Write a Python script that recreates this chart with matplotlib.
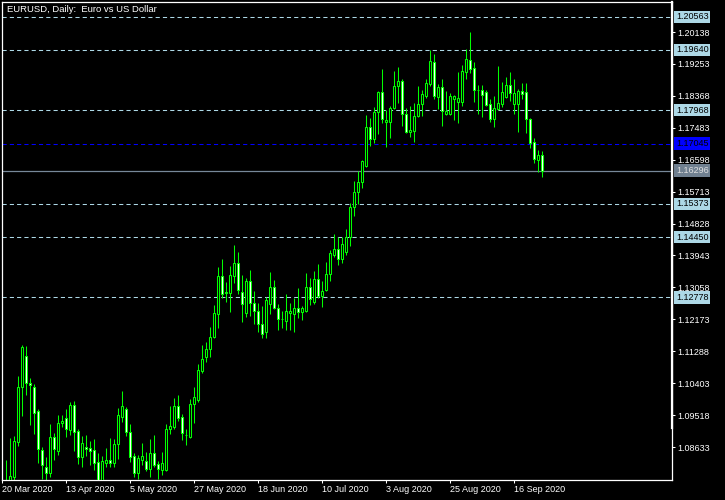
import matplotlib
matplotlib.use('Agg')
import matplotlib.pyplot as plt
from matplotlib.lines import Line2D
from matplotlib.transforms import blended_transform_factory

plt.rcParams['font.family'] = ['Liberation Sans', 'DejaVu Sans']

# EURUSD daily bars, 20 Mar 2020 .. 25 Sep 2020
opens = [
    1.0690, 1.0695, 1.0720, 1.0781, 1.0878, 1.1029, 1.1116, 1.1040, 1.1029, 1.0962,
    1.0854, 1.0808, 1.0790, 1.0890, 1.0853, 1.0929, 1.0943, 1.0910, 1.0980, 1.0907,
    1.0836, 1.0864, 1.0861, 1.0855, 1.0822, 1.0760, 1.0819, 1.0827, 1.0818, 1.0871,
    1.0947, 1.0968, 1.0904, 1.0837, 1.0790, 1.0827, 1.0824, 1.0802, 1.0847, 1.0815,
    1.0800, 1.0800, 1.0912, 1.0920, 1.0977, 1.0946, 1.0897, 1.0890, 1.0983, 1.0994,
    1.1075, 1.1114, 1.1134, 1.1167, 1.1231, 1.1337, 1.1292, 1.1291, 1.1338, 1.1373,
    1.1292, 1.1234, 1.1323, 1.1262, 1.1241, 1.1203, 1.1181, 1.1259, 1.1306, 1.1250,
    1.1218, 1.1213, 1.1234, 1.1233, 1.1250, 1.1238, 1.1240, 1.1308, 1.1266, 1.1328,
    1.1283, 1.1299, 1.1342, 1.1396, 1.1411, 1.1384, 1.1403, 1.1446, 1.1528, 1.1569,
    1.1597, 1.1643, 1.1751, 1.1716, 1.1791, 1.1847, 1.1763, 1.1763, 1.1802, 1.1863,
    1.1877, 1.1786, 1.1737, 1.1740, 1.1782, 1.1813, 1.1837, 1.1869, 1.1930, 1.1835,
    1.1860, 1.1787, 1.1787, 1.1829, 1.1821, 1.1821, 1.1904, 1.1935, 1.1913, 1.1852,
    1.1852, 1.1847, 1.1813, 1.1773, 1.1800, 1.1815, 1.1834, 1.1866, 1.1815, 1.1815,
    1.1850, 1.1847, 1.1772, 1.1708, 1.1658, 1.1673,
]
highs = [
    1.0832, 1.0827, 1.0887, 1.0894, 1.1060, 1.1146, 1.1143, 1.1055, 1.1038, 1.0968,
    1.0863, 1.0836, 1.0927, 1.0903, 1.0953, 1.0952, 1.0968, 1.0988, 1.0992, 1.0912,
    1.0894, 1.0897, 1.0880, 1.0885, 1.0846, 1.0838, 1.0860, 1.0889, 1.0885, 1.0971,
    1.1018, 1.0975, 1.0926, 1.0847, 1.0842, 1.0874, 1.0849, 1.0885, 1.0897, 1.0824,
    1.0849, 1.0926, 1.0977, 1.0999, 1.1007, 1.0955, 1.0912, 1.0996, 1.1030, 1.1093,
    1.1146, 1.1154, 1.1195, 1.1256, 1.1362, 1.1385, 1.1322, 1.1365, 1.1423, 1.1404,
    1.1340, 1.1333, 1.1354, 1.1296, 1.1263, 1.1254, 1.1280, 1.1348, 1.1326, 1.1260,
    1.1241, 1.1287, 1.1263, 1.1275, 1.1303, 1.1254, 1.1346, 1.1332, 1.1350, 1.1371,
    1.1324, 1.1376, 1.1409, 1.1454, 1.1445, 1.1445, 1.1467, 1.1539, 1.1600, 1.1628,
    1.1659, 1.1783, 1.1775, 1.1805, 1.1850, 1.1910, 1.1797, 1.1809, 1.1905, 1.1917,
    1.1883, 1.1802, 1.1809, 1.1816, 1.1864, 1.1853, 1.1883, 1.1964, 1.1952, 1.1869,
    1.1883, 1.1850, 1.1844, 1.1839, 1.1903, 1.1921, 1.1966, 1.2014, 1.1930, 1.1867,
    1.1867, 1.1853, 1.1828, 1.1836, 1.1920, 1.1875, 1.1889, 1.1903, 1.1883, 1.1855,
    1.1872, 1.1872, 1.1775, 1.1719, 1.1687, 1.1685,
]
lows = [
    1.0636, 1.0637, 1.0690, 1.0750, 1.0866, 1.0950, 1.1007, 1.0924, 1.0899, 1.0820,
    1.0775, 1.0772, 1.0781, 1.0827, 1.0840, 1.0918, 1.0892, 1.0897, 1.0853, 1.0816,
    1.0809, 1.0838, 1.0813, 1.0800, 1.0755, 1.0740, 1.0807, 1.0809, 1.0809, 1.0831,
    1.0933, 1.0895, 1.0823, 1.0781, 1.0774, 1.0813, 1.0798, 1.0781, 1.0809, 1.0774,
    1.0786, 1.0798, 1.0899, 1.0914, 1.0935, 1.0883, 1.0869, 1.0888, 1.0931, 1.0989,
    1.1068, 1.1100, 1.1114, 1.1165, 1.1194, 1.1277, 1.1266, 1.1238, 1.1319, 1.1287,
    1.1211, 1.1224, 1.1227, 1.1204, 1.1183, 1.1166, 1.1166, 1.1233, 1.1246, 1.1189,
    1.1194, 1.1188, 1.1189, 1.1183, 1.1221, 1.1215, 1.1238, 1.1258, 1.1259, 1.1276,
    1.1252, 1.1297, 1.1323, 1.1391, 1.1369, 1.1374, 1.1395, 1.1421, 1.1504, 1.1536,
    1.1580, 1.1640, 1.1699, 1.1705, 1.1730, 1.1761, 1.1696, 1.1721, 1.1799, 1.1818,
    1.1753, 1.1735, 1.1722, 1.1710, 1.1779, 1.1782, 1.1830, 1.1865, 1.1829, 1.1801,
    1.1753, 1.1784, 1.1784, 1.1770, 1.1762, 1.1809, 1.1884, 1.1901, 1.1820, 1.1787,
    1.1778, 1.1809, 1.1765, 1.1750, 1.1798, 1.1805, 1.1831, 1.1823, 1.1787, 1.1737,
    1.1827, 1.1733, 1.1691, 1.1651, 1.1627, 1.1613,
]
closes = [
    1.0695, 1.0722, 1.0783, 1.0880, 1.1029, 1.1141, 1.1042, 1.1034, 1.0958, 1.0857,
    1.0813, 1.0790, 1.0890, 1.0857, 1.0929, 1.0935, 1.0912, 1.0980, 1.0906, 1.0836,
    1.0874, 1.0858, 1.0853, 1.0820, 1.0772, 1.0824, 1.0827, 1.0818, 1.0871, 1.0951,
    1.0978, 1.0906, 1.0836, 1.0792, 1.0832, 1.0837, 1.0803, 1.0847, 1.0813, 1.0803,
    1.0818, 1.0912, 1.0922, 1.0977, 1.0945, 1.0901, 1.0896, 1.0983, 1.1001, 1.1077,
    1.1106, 1.1135, 1.1167, 1.1234, 1.1337, 1.1287, 1.1291, 1.1340, 1.1373, 1.1299,
    1.1259, 1.1323, 1.1262, 1.1241, 1.1203, 1.1176, 1.1271, 1.1306, 1.1249, 1.1217,
    1.1219, 1.1240, 1.1240, 1.1250, 1.1238, 1.1248, 1.1308, 1.1273, 1.1328, 1.1283,
    1.1296, 1.1342, 1.1400, 1.1411, 1.1384, 1.1425, 1.1445, 1.1528, 1.1569, 1.1597,
    1.1656, 1.1751, 1.1716, 1.1791, 1.1847, 1.1772, 1.1770, 1.1802, 1.1863, 1.1877,
    1.1786, 1.1737, 1.1741, 1.1782, 1.1813, 1.1842, 1.1872, 1.1933, 1.1837, 1.1861,
    1.1796, 1.1794, 1.1836, 1.1836, 1.1830, 1.1905, 1.1938, 1.1911, 1.1854, 1.1853,
    1.1840, 1.1811, 1.1773, 1.1802, 1.1816, 1.1847, 1.1866, 1.1846, 1.1846, 1.1850,
    1.1841, 1.1772, 1.1707, 1.1661, 1.1673, 1.16296,
]

date_labels = ['20 Mar 2020', '13 Apr 2020', '5 May 2020', '27 May 2020', '18 Jun 2020',
               '10 Jul 2020', '3 Aug 2020', '25 Aug 2020', '16 Sep 2020']
date_bars = [0, 16, 32, 48, 64, 80, 96, 112, 128]

price_ticks = [1.20138, 1.19253, 1.18368, 1.17483, 1.16598, 1.15713, 1.14828,
               1.13943, 1.13058, 1.12173, 1.11288, 1.10403, 1.09518, 1.08633]

level_lines = [1.20563, 1.19640, 1.17968, 1.15373, 1.14450, 1.12778]
ask_line = 1.17045
bid_line = 1.16296

title = 'EURUSD, Daily:  Euro vs US Dollar'

GREEN = '#00ff00'
FS = 6.5

fig = plt.figure(figsize=(7.25, 5.0), dpi=100, facecolor='black')
ax = fig.add_axes([2 / 725, 20.5 / 500, 670 / 725, 477.5 / 500], facecolor='black')

n = len(closes)
xs = list(range(n))

# level lines
for lv in level_lines:
    ax.axhline(lv, color='#add8e6', lw=0.75, ls=(0, (4, 3)), zorder=1)
ax.axhline(ask_line, color='#0000ff', lw=0.75, ls=(0, (4, 3)), zorder=1)
ax.axhline(bid_line, color='#778899', lw=0.9, zorder=1)

# wicks
ax.vlines(xs, lows, highs, color=GREEN, lw=0.75, zorder=2)

# bodies: bull = black, bear = white
bottoms = [min(o, c) for o, c in zip(opens, closes)]
heights = [max(abs(c - o), 0.00002) for o, c in zip(opens, closes)]
fills = ['black' if c >= o else 'white' for o, c in zip(opens, closes)]
ax.bar(xs, heights, bottom=bottoms, width=0.5, color=fills,
       edgecolor=GREEN, linewidth=0.75, zorder=3)

ax.set_xlim(-0.075, -0.075 + 670 / 4)
ax.set_ylim(1.07732, 1.20970)

for s in ax.spines.values():
    s.set_color('white')
    s.set_linewidth(0.9)

# thicker upper part of the price scale border
ax.add_line(Line2D([1.0, 1.0], [0.108, 1.0], transform=ax.transAxes,
                   color='white', lw=1.6, clip_on=False, zorder=5))

ax.set_xticks(date_bars)
ax.set_xticklabels(date_labels)
for lbl in ax.get_xticklabels():
    lbl.set_ha('left')
ax.tick_params(axis='x', colors='white', labelcolor='white', labelsize=FS,
               length=2.5, width=0.75, pad=1.5, direction='out')

ax.yaxis.tick_right()
ax.set_yticks(price_ticks)
ax.set_yticklabels([f'{p:.5f}' for p in price_ticks])
ax.tick_params(axis='y', colors='white', labelcolor='white', labelsize=FS,
               length=2.5, width=0.75, pad=1.5, direction='out')

# price labels of the lines
tr = blended_transform_factory(ax.transAxes, ax.transData)
for lv in level_lines:
    ax.text(1 + 4 / 670, lv, f'{lv:.5f}', transform=tr, ha='left', va='center',
            fontsize=FS, color='black', zorder=6, clip_on=False,
            bbox=dict(boxstyle='square,pad=0.18', fc='#add8e6', ec='none'))
ax.text(1 + 4 / 670, ask_line, f'{ask_line:.5f}', transform=tr, ha='left', va='center',
        fontsize=FS, color='black', zorder=6, clip_on=False,
        bbox=dict(boxstyle='square,pad=0.18', fc='#0000ff', ec='none'))
ax.text(1 + 4 / 670, bid_line, f'{bid_line:.5f}', transform=tr, ha='left', va='center',
        fontsize=FS, color='#e0e0e0', zorder=6, clip_on=False,
        bbox=dict(boxstyle='square,pad=0.18', fc='#708090', ec='none'))

ax.text(5 / 670, 1 - 7 / 477.5, title, transform=ax.transAxes, ha='left', va='center',
        fontsize=FS + 0.3, color='white', zorder=6)

fig.savefig('out.png', dpi=100, facecolor='black')
